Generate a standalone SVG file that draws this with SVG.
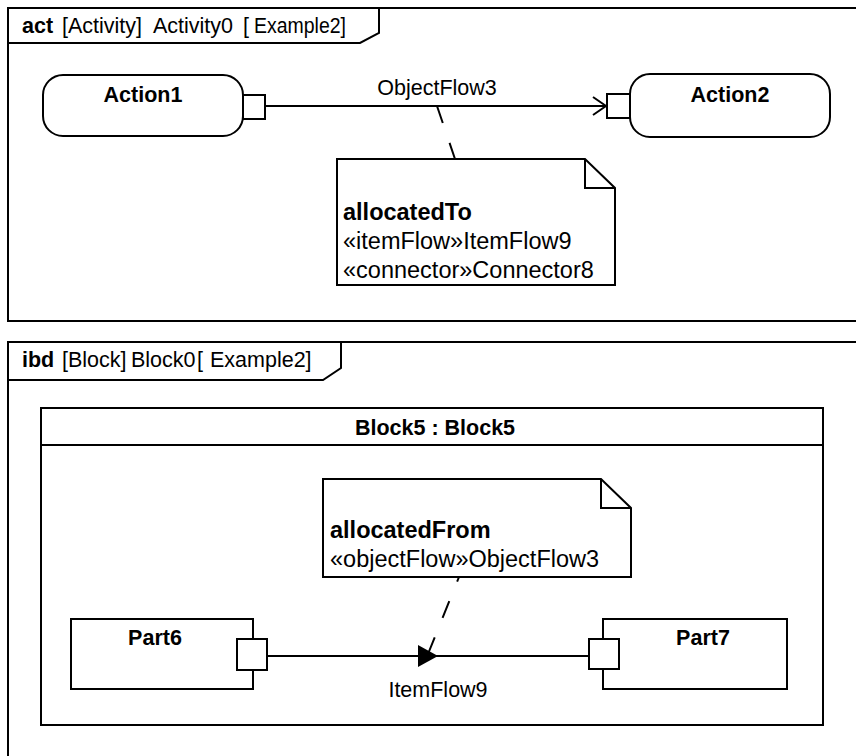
<svg xmlns="http://www.w3.org/2000/svg" width="856" height="756" viewBox="0 0 856 756">
<style>
.ln{fill:none;stroke:#000;stroke-width:2}
.box{fill:#fff;stroke:#000;stroke-width:2}
.t{font-family:"Liberation Sans",Arial,sans-serif;font-size:21.5px;fill:#000}
.b{font-weight:bold}
.n{font-family:"Liberation Sans",Arial,sans-serif;font-size:23.5px;fill:#000}
.dash{fill:none;stroke:#000;stroke-width:2;stroke-dasharray:18 21}
</style>
<defs>
<marker id="open" markerWidth="16" markerHeight="20" refX="14" refY="10" orient="auto" markerUnits="userSpaceOnUse">
<path d="M1,1 L14,10 L1,19" fill="none" stroke="#000" stroke-width="2"/>
</marker>
</defs>
<rect width="856" height="756" fill="#fff"/>

<g id="frame-act">
<path class="ln" d="M860,8 H8 V321 H860"/>
<path class="ln" d="M8,43 H360 L379,33 V8"/>
<text class="t" y="33"><tspan x="22" class="b">act</tspan><tspan x="62">[Activity]</tspan><tspan x="153">Activity0</tspan><tspan x="243">[</tspan><tspan x="254" textLength="92" lengthAdjust="spacingAndGlyphs">Example2]</tspan></text>
</g>

<g id="connectors-act">
<line class="ln" x1="266" y1="106" x2="606" y2="106" marker-end="url(#open)"/>
<text class="t" x="437" y="95" text-anchor="middle">ObjectFlow3</text>
<path class="dash" d="M437,106 L455,159"/>
</g>

<g id="Action1">
<rect class="box" x="43" y="75" width="200" height="61" rx="20"/>
<rect class="box" x="243" y="95" width="22" height="24"/>
<text class="t b" x="143" y="102" text-anchor="middle">Action1</text>
</g>

<g id="Action2">
<rect class="box" x="630" y="74" width="200" height="63" rx="20"/>
<rect class="box" x="607" y="94" width="23" height="24"/>
<text class="t b" x="730" y="102" text-anchor="middle">Action2</text>
</g>

<g id="Note1">
<path class="box" d="M337,159 H585 L615,188 V285 H337 Z"/>
<path class="ln" d="M585,159 V188 H615"/>
<text class="n b" x="343" y="220">allocatedTo</text>
<text class="n" x="343" y="249">«itemFlow»ItemFlow9</text>
<text class="n" x="343" y="278">«connector»Connector8</text>
</g>

<g id="frame-ibd">
<path class="ln" d="M860,342 H8 V760"/>
<path class="ln" d="M8,380 H323 L341,368 V342"/>
<text class="t" y="367"><tspan x="22" class="b">ibd</tspan><tspan x="62">[Block]</tspan><tspan x="131">Block0</tspan><tspan x="197">[</tspan><tspan x="210">Example2]</tspan></text>
</g>

<g id="Block5">
<rect class="box" x="41" y="408" width="782" height="317"/>
<line class="ln" x1="41" y1="445" x2="823" y2="445"/>
<text class="t b" x="435" y="435" text-anchor="middle">Block5 : Block5</text>
</g>

<g id="connectors-ibd">
<line class="ln" x1="267" y1="656" x2="589" y2="656"/>
<path d="M418,645 L438,656 L418,667 Z" fill="#000"/>
<text class="t" x="438" y="697" text-anchor="middle">ItemFlow9</text>
<path class="dash" d="M428,654 L459,577"/>
</g>

<g id="Note2">
<path class="box" d="M323,479 H601 L631,508 V577 H323 Z"/>
<path class="ln" d="M601,479 V508 H631"/>
<text class="n b" x="330" y="538">allocatedFrom</text>
<text class="n" x="330" y="567">«objectFlow»ObjectFlow3</text>
</g>

<g id="Part6">
<rect class="box" x="71" y="619" width="182" height="70"/>
<rect class="box" x="237" y="639" width="30" height="31"/>
<text class="t b" x="155" y="645" text-anchor="middle">Part6</text>
</g>

<g id="Part7">
<rect class="box" x="603" y="619" width="184" height="70"/>
<rect class="box" x="589" y="639" width="30" height="30"/>
<text class="t b" x="703" y="645" text-anchor="middle">Part7</text>
</g>
</svg>
